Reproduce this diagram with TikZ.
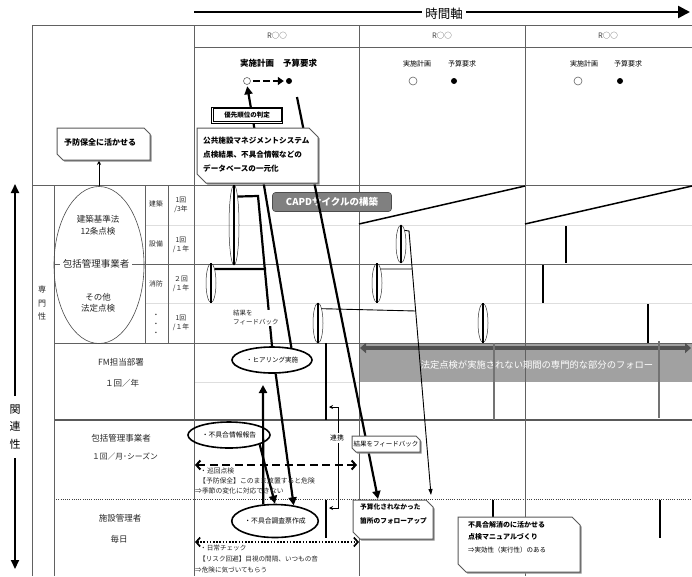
\documentclass[tikz,border=0pt]{standalone}
\usepackage{fontspec}
\setmainfont{Noto Sans CJK JP}
\usetikzlibrary{arrows.meta,shapes.geometric}
\newcommand\fs[1]{\fontsize{#1}{#1}\selectfont}
\newcommand\fz[2]{\fontsize{#1}{#2}\selectfont}
\newcommand\cbox[5]{%
  \fill[black!45] ({#1+1.5},{#2+1.5}) -- ({#3-#5+1.5},{#2+1.5}) -- ({#3+1.5},{#2+#5+1.5}) -- ({#3+1.5},{#4+1.5}) -- ({#1+#5+1.5},{#4+1.5}) -- ({#1+1.5},{#4-#5+1.5}) -- cycle;
  \draw[bx] (#1,#2) -- ({#3-#5},#2) -- (#3,{#2+#5}) -- (#3,#4) -- ({#1+#5},#4) -- (#1,{#4-#5}) -- cycle;}
\begin{document}
\begin{tikzpicture}[x=1pt,y=-1pt,
  grid/.style={draw=black!62,line width=0.7pt},
  lgrid/.style={draw=black!13,line width=1pt},
  cell/.style={inner sep=0pt,font=\fz{6.8}{9},align=center,text=black!85},
  rowt/.style={inner sep=0pt,font=\fs{8.5},text=black!85},
  bx/.style={draw=black!65,line width=1pt,fill=white},
  thin ell/.style={ellipse,draw=black!80,line width=0.5pt,inner sep=0pt,minimum width=10},
  bold ell/.style={ellipse,draw=black,line width=1.6pt,inner sep=0pt},
  tk/.style={line width=2.2pt},
  bigtip/.style={-{Triangle[length=8pt,width=8pt]}},
]
\useasboundingbox (0,0) rectangle (692,576);

% gray band
\fill[black!37] (359.5,343.5) rectangle (692,382);

% grid
\draw[lgrid] (145,225) -- (692,225);
\draw[lgrid] (145,303) -- (692,303);
\draw[lgrid] (194,382) -- (359,382);
\draw[grid] (32,25) -- (692,25);
\draw[grid] (194,47) -- (692,47);
\draw[grid] (32,185) -- (692,185);
\draw[grid] (54,264) -- (692,264);
\draw[grid] (54,343) -- (692,343);
\draw[draw=black!65,line width=1.6pt] (54,420) -- (692,420);
\draw[draw=black!75,line width=0.8pt,dash pattern=on 1pt off 1.2pt] (54,499) -- (692,499);
\draw[grid] (32,25) -- (32,576);
\draw[grid] (54,185) -- (54,576);
\draw[grid] (145,185) -- (145,343);
\draw[grid] (168,185) -- (168,343);
\draw[grid] (194,25) -- (194,576);
\draw[grid] (359,25) -- (359,576);
\draw[grid] (525,25) -- (525,576);

% diagonals
\draw[line width=1.5pt] (359,224) -- (525,186);
\draw[line width=1.5pt] (525,224) -- (692,186);

% time axis
\draw[line width=2.5pt,-{Triangle[length=12pt,width=12pt]}] (194,12) -- (690,12);
\node[fill=white,inner sep=3pt,font=\fs{12.5}] (time) at (444,14) {時間軸};

% left axis
\node[inner sep=0pt,font=\fz{11}{17.5},align=center] (kan) at (15,427) {関\\連\\性};
\draw[line width=2pt,-{Triangle[length=9pt,width=8pt]}] (15,396) -- (15,184);
\draw[line width=2pt,-{Triangle[length=9pt,width=8pt]}] (15,458) -- (15,569);

\node[inner sep=0pt,font=\fz{8}{13.5},align=center,text=black!85] (senmon) at (42,303) {専\\門\\性};

% headers
\foreach \x/\n in {277/h1,442/h2,608/h3}
  \node[inner sep=0pt,font=\fs{7.5},text=black!75] (\n) at (\x,36) {R○○};
\node[inner sep=0pt,font=\bfseries\fs{8.5}] (jk1) at (257,63) {実施計画};
\node[inner sep=0pt,font=\bfseries\fs{8.5}] (yk1) at (300,63) {予算要求};
\node[inner sep=0pt,font=\fs{7}] (jk2) at (417,64) {実施計画};
\node[inner sep=0pt,font=\fs{7}] (yk2) at (462,64) {予算要求};
\node[inner sep=0pt,font=\fs{7}] (jk3) at (584,64) {実施計画};
\node[inner sep=0pt,font=\fs{7}] (yk3) at (628,64) {予算要求};
\node[circle,draw=black!60,line width=0.6pt,minimum size=7,inner sep=0pt] (oc1) at (247,81) {};
\node[circle,fill=black,minimum size=6,inner sep=0pt] (fc1) at (289,81) {};
\node[circle,draw=black!60,line width=0.6pt,minimum size=8,inner sep=0pt] (oc2) at (413,81) {};
\node[circle,fill=black,minimum size=6,inner sep=0pt] (fc2) at (454,81) {};
\node[circle,draw=black!60,line width=0.6pt,minimum size=8,inner sep=0pt] (oc3) at (578,81) {};
\node[circle,fill=black,minimum size=6,inner sep=0pt] (fc3) at (620,81) {};
\draw[line width=2.4pt,dash pattern=on 7pt off 3pt,-{Triangle[length=6pt,width=8pt]},shorten <=2pt,shorten >=2pt] (oc1) -- (fc1);

% left cells
\node[cell] (c1a) at (156,204) {建築};
\node[cell] (c1b) at (181,205) {1回\\/3年};
\node[cell] (c2a) at (156,244) {設備};
\node[cell] (c2b) at (181,245) {1回\\/１年};
\node[cell] (c3a) at (156,284) {消防};
\node[cell] (c3b) at (181,284) {２回\\/１年};
\node[cell] (c4a) at (156,325) {・\\・\\・};
\node[cell] (c4b) at (181,323) {1回\\/１年};

% big ellipse
\node[ellipse,draw=black!70,line width=0.6pt,minimum width=90,minimum height=157,inner sep=0pt] (bigE) at (99,265) {};
\node[inner sep=0pt,font=\fz{8.5}{12},align=center,text=black!85] (kenchiku) at (98,225) {建築基準法\\12条点検};
\node[inner sep=0pt,font=\fz{8.5}{11.5},align=center,text=black!85] (sonota) at (98,303) {その他\\法定点検};
\node[fill=white,inner sep=2.5pt,font=\fs{9.5},text=black!85] (hokatsu1) at (96,264) {包括管理事業者};

% row labels
\node[rowt] (fm1) at (121,362) {FM担当部署};
\node[rowt] (fm2) at (122,383) {１回／年};
\node[rowt] (hk1) at (121,438) {包括管理事業者};
\node[rowt,font=\fs{7.8}] (hk2) at (125,457) {１回／月･シーズン};
\node[rowt] (sk1) at (120,518) {施設管理者};
\node[rowt] (sk2) at (119,539) {毎日};

% band text and arrow
\node[inner sep=0pt,font=\fs{9.3},text=white] (band) at (537,365) {法定点検が実施されない期間の専門的な部分のフォロー};
\coordinate (bl) at (360,348);
\coordinate (br) at (691,348);
\draw[line width=4pt,draw=black!68,{Triangle[length=6pt,width=10pt]}-{Triangle[length=6pt,width=10pt]}] (bl) -- (br);

% gray verticals
\draw[line width=1.8pt,draw=black!55] (494,343) -- (494,420);
\draw[line width=1.8pt,draw=black!55] (659,341) -- (659,418);

% black verticals
\draw[line width=2pt] (566,226) -- (566,263);
\draw[line width=2pt] (543,265) -- (543,303);
\draw[line width=2pt] (648,304) -- (648,343);
\draw[line width=2pt] (326,343) -- (326,420);
\draw[line width=2pt] (326,500) -- (326,538);
\draw[line width=2pt] (493,500) -- (493,540);
\draw[line width=2pt] (660,500) -- (660,538);

% thin ellipses
\node[thin ell,minimum height=80] (e1) at (234,225) {};
\node[thin ell,minimum height=39] (e2) at (211,283) {};
\node[thin ell,minimum height=40] (e3) at (318,323) {};
\node[thin ell,minimum height=38] (ea) at (401,244) {};
\node[thin ell,minimum height=39] (eb) at (377,283) {};
\node[thin ell,minimum height=39] (ec) at (483,323) {};
\foreach \e in {e1,e2,e3,ea,eb,ec}
  \draw[line width=1.6pt] (\e.north) -- (\e.south);

% CAPD
\node[fill=black!50,draw=black!70,line width=0.6pt,rounded corners=3pt,minimum width=119,minimum height=19,inner sep=0pt,text=white,font=\bfseries\fs{9.5}] (capd) at (332,202) {CAPDサイクルの構築};

% bold ellipses
\node[bold ell,minimum width=80,minimum height=26,font=\fs{6.5}] (hear) at (272,360) {・ヒアリング実施\hspace{6pt}};
\node[bold ell,minimum width=82,minimum height=26,font=\fs{6.8}] (info) at (229,435) {・不具合情報報告};
\node[bold ell,minimum width=86,minimum height=33,font=\fs{6.8}] (hcs) at (275,521) {・不具合調査票作成\hspace{10pt}};

% connectors
\coordinate (b1) at (258,196);
\coordinate (j2) at (266,269);
\coordinate (j3) at (416,311);
\coordinate (ba) at (409,231);
\coordinate (ta) at (431,495);
\coordinate (j4) at (412,269);
\coordinate (bs) at (297,97);
\coordinate (ysT) at (378,499);
\coordinate (ha) at (263,385);
\draw[tk] (e1.north east) -- (b1) -- (hear.north);
\draw[tk] (e2.north east) -- (j2);
\draw[line width=0.9pt] (e3.north east) -- (j3);
\draw[line width=0.9pt] (eb.north east) -- (j4);
\draw[line width=0.9pt,-{Triangle[length=6pt,width=4pt]}] (ea.north east) -- (ba) -- (ta);
\draw[tk,bigtip,shorten >=1.5pt] (hear.32) -- (oc1.south);
\draw[tk,bigtip] (bs) -- (ysT);
\draw[tk,bigtip] (hear.-75) -- (hcs.40);
\draw[tk,bigtip] (info.-17) -- (hcs.north);
\draw[tk,bigtip] (hcs.125) -- (ha);
\draw[line width=0.8pt,-{Stealth[length=5pt,width=4pt]}] (bigE.north) -- (99,160);

% renkei
\coordinate (rk1) at (329,407);
\coordinate (rk2) at (329,508);
\draw[line width=0.8pt,{Stealth[length=4pt,width=4pt]}-{Stealth[length=4pt,width=4pt]}] (rk1) -- (338,407) -- (338,508) -- (rk2);
\node[fill=white,inner sep=1.5pt,font=\fs{6.8}] (renkei) at (337,438) {連携};

% dashed / dotted arrows
\coordinate (dl) at (195,465);
\coordinate (dr) at (357,465);
\draw[line width=2pt,dash pattern=on 8pt off 4.5pt,{Straight Barb[length=4pt,width=9pt]}-{Straight Barb[length=4pt,width=9pt]}] (dl) -- (dr);
\coordinate (ol) at (195,542);
\coordinate (or) at (359,542);
\draw[line width=1.7pt,dash pattern=on 1.6pt off 1.6pt,{Straight Barb[length=4pt,width=9pt]}-{Straight Barb[length=4pt,width=9pt]}] (ol) -- (or);

\node[anchor=north west,align=left,inner sep=0pt,font=\fz{6.8}{10},text=black!85] (junkai) at (195,468) {\hspace{5pt}・巡回点検\\\hspace{4pt}【予防保全】このまま放置すると危険\\⇒季節の変化に対応できない};
\node[anchor=north west,align=left,inner sep=0pt,font=\fz{6.6}{10.8},text=black!85] (nichijo) at (195,545) {\hspace{5pt}・日常チェック\\\hspace{4pt}【リスク回避】目視の間隔、いつもの音\\⇒危険に気づいてもらう};

% feedback label
\node[fill=white,anchor=west,align=left,inner sep=1pt,font=\fz{6.5}{9},text=black!85] (fb1) at (232,318) {結果を\\フィードバック};

% boxes
\cbox{57}{128}{150}{160}{6}
\node[anchor=west,inner sep=0pt,font=\bfseries\fs{8}] (yobo) at (64,142) {予防保全に活かせる};
\cbox{197}{128}{318}{183}{9}
\node[anchor=north west,align=left,inner sep=0pt,font=\bfseries\fz{7.6}{14}] (kokyo) at (203,137) {公共施設マネジメントシステム\\点検結果、不具合情報などの\\データベースの一元化};
\node[draw=black,line width=1pt,fill=white,minimum width=71,minimum height=16,inner sep=0pt,font=\bfseries\fs{6.5}] (yusen) at (247,115) {優先順位の判定};
\draw[line width=0.5pt] ([shift={(2,2)}]yusen.north west) rectangle ([shift={(-2,-2)}]yusen.south east);
\cbox{353}{500}{433}{539}{7}
\node[anchor=north west,align=left,inner sep=0pt,font=\bfseries\fz{6.7}{14}] (yosanka) at (360,503) {予算化されなかった\\箇所のフォローアップ};
\cbox{458}{517}{580}{572}{8}
\node[anchor=north west,align=left,inner sep=0pt,font=\bfseries\fz{7}{12.5}] (fuguai) at (468,521) {不具合解消のに活かせる\\点検マニュアルづくり\\\mdseries\fs{6.5}⇒実効性（実行性）のある};
\cbox{352}{436}{420}{452}{4}
\node[inner sep=0pt,font=\fs{6.5}] (fb2) at (386,444) {結果をフィードバック};
\end{tikzpicture}
\end{document}
